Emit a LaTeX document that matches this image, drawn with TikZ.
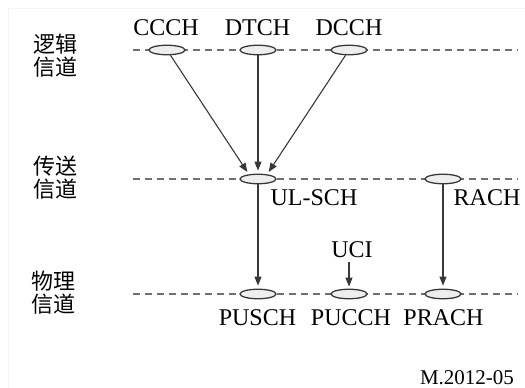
\documentclass[tikz,border=0pt]{standalone}
\usepackage{fontspec}
\setmainfont{Liberation Serif}
\newfontfamily\cjk{Noto Sans CJK SC}
\usetikzlibrary{arrows.meta,shapes.geometric}
\definecolor{linegray}{HTML}{383838}
\definecolor{dashgray}{HTML}{707070}
\definecolor{fillgray}{HTML}{EEEEEE}
\begin{document}
\begin{tikzpicture}[x=1pt,y=-1pt,
  chan/.style={ellipse,draw=linegray,fill=fillgray,line width=1.3pt,minimum width=36pt,minimum height=9.5pt,inner sep=0pt},
  lab/.style={inner sep=0pt,font=\fontsize{24}{28}\selectfont},
  layer/.style={inner sep=0pt,align=center,font=\cjk\fontsize{22}{23}\selectfont},
  level/.style={dashgray,line width=1.2pt,dash pattern=on 7pt off 5pt},
  arr/.style={linegray,line width=1.1pt,-{Triangle[length=9pt,width=7pt]},shorten >=3pt}]
\useasboundingbox (0,0) rectangle (525,388);
\draw[gray!8,line width=0.8pt] (8,8) rectangle (525,388);
% levels
\coordinate (l1a) at (133,50);  \coordinate (l1b) at (518,50);
\coordinate (l2a) at (133,179); \coordinate (l2b) at (518,179);
\coordinate (l3a) at (133,294); \coordinate (l3b) at (518,294);
\draw[level] (l1a) -- (l1b);
\draw[level] (l2a) -- (l2b);
\draw[level] (l3a) -- (l3b);
% layer labels
\node[layer] (log) at (55,56) {逻辑\\信道};
\node[layer] (tra) at (55,178) {传送\\信道};
\node[layer] (phy) at (53,293) {物理\\信道};
% channels
\node[chan] (ccch) at (167,50) {};
\node[chan] (dtch) at (258,50) {};
\node[chan] (dcch) at (349,50) {};
\node[chan] (ulsch) at (258,179) {};
\node[chan] (rach) at (443,179) {};
\node[chan] (pusch) at (258,294) {};
\node[chan] (pucch) at (349,294) {};
\node[chan] (prach) at (443,294) {};
% labels
\node[lab] (tccch) at (166,27.5) {CCCH};
\node[lab] (tdtch) at (257.5,27.5) {DTCH};
\node[lab] (tdcch) at (349,27.5) {DCCH};
\node[lab] (tulsch) at (314,198) {UL-SCH};
\node[lab] (track) at (487,198) {RACH};
\node[lab] (tuci) at (352,250) {UCI};
\node[lab] (tpusch) at (257.5,318) {PUSCH};
\node[lab] (tpucch) at (351,318) {PUCCH};
\node[lab] (tprach) at (443.5,318) {PRACH};
\node[inner sep=0pt,font=\fontsize{21}{25}\selectfont] (fig) at (467,377.5) {M.2012-05};
% connectors
\coordinate (in1) at (249,174.5);
\coordinate (in3) at (267,174.5);
\draw[arr] (ccch) -- (in1);
\draw[arr] (dtch) -- (ulsch);
\draw[arr] (dcch) -- (in3);
\draw[arr] (ulsch) -- (pusch);
\draw[arr] (rach) -- (prach);
\coordinate (ucib) at (349,262);
\draw[arr,shorten >=2pt] (ucib) -- (pucch);
\end{tikzpicture}
\end{document}
